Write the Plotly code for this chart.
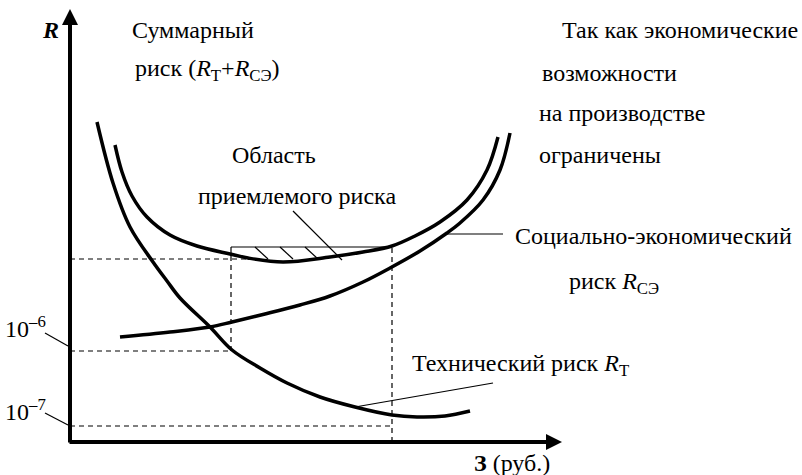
import plotly.graph_objects as go

### 데이터 (origin = axis crossing; units = screen px of the reference)
# суммарный риск R_Т + R_СЭ
total_x = [45, 52, 62, 77, 100, 127, 160, 178, 213, 260, 293, 322, 345, 370, 397, 417, 428]
total_y = [297, 270, 246, 225, 207, 196, 188, 184, 180, 185, 190, 196, 206, 220, 242, 272, 305]
# технический риск R_Т
tech_x = [27, 43, 60, 83, 97, 110, 140, 162, 190, 217, 250, 285, 322, 347, 375, 400]
tech_y = [320, 259, 215, 180, 161, 144, 115, 92, 74, 59, 45, 35, 27, 25, 26, 31]
# социально-экономический риск R_СЭ
soc_x = [50, 100, 140, 162, 195, 230, 260, 293, 320, 350, 377, 390, 413, 430, 440]
soc_y = [105, 110, 115, 120, 128, 137, 146, 160, 174, 191, 209, 219, 242, 272, 309]

# уровни риска и затрат (пунктир)
r_1e6 = 91
r_1e7 = 16
r_min = 183
r_top = 195
z_left = 161
z_right = 322
z_curve = 178
hatch_x = [185, 210, 235]

x_end = 492
y_end = 433

font = dict(family='"Liberation Serif", serif', size=24, color='black')

fig = go.Figure()
for xs, ys in [(total_x, total_y), (tech_x, tech_y), (soc_x, soc_y)]:
    fig.add_trace(go.Scatter(x=xs, y=ys, mode='lines',
                             line=dict(color='black', width=3.5, shape='spline', smoothing=1.0),
                             hoverinfo='skip', showlegend=False))

dash = dict(color='black', width=1.2, dash='5px,4px')
thin = dict(color='black', width=1.2)
shapes = [
    # пунктирные уровни
    dict(type='line', x0=0, x1=z_curve, y0=r_min, y1=r_min, line=dash),
    dict(type='line', x0=0, x1=z_left, y0=r_1e6, y1=r_1e6, line=dash),
    dict(type='line', x0=0, x1=z_right, y0=r_1e7, y1=r_1e7, line=dash),
    dict(type='line', x0=z_left, x1=z_left, y0=r_1e6, y1=r_min, line=dash),
    dict(type='line', x0=z_right, x1=z_right, y0=0, y1=r_top, line=dash),
    # область приемлемого риска
    dict(type='line', x0=z_left, x1=z_right, y0=r_top, y1=r_top, line=thin),
    dict(type='line', x0=z_left, x1=z_left, y0=r_min, y1=r_top, line=thin),
]
for hx in hatch_x:
    shapes.append(dict(type='line', x0=hx, x1=hx + 13, y0=r_top, y1=r_top - 12, line=thin))
# выноски
shapes += [
    dict(type='line', x0=223, x1=272, y0=231, y1=182, line=thin),
    dict(type='line', x0=375, x1=433, y0=208, y1=208, line=thin),
    dict(type='line', x0=285, x1=423, y0=35, y1=59, line=thin),
    dict(type='line', x0=-25, x1=-2, y0=109, y1=96, line=thin),
    dict(type='line', x0=-25, x1=-2, y0=29, y1=17, line=thin),
]

labels = [
    (-30, 412, '<b><i>R</i></b>'),
    (60, 412, 'Суммарный'),
    (63, 372, 'риск (<i>R</i><sub>Т</sub>+<i>R</i><sub>СЭ</sub>)'),
    (490, 412, 'Так как экономические'),
    (470, 369, 'возможности'),
    (467, 329, 'на производстве'),
    (467, 287, 'ограничены'),
    (160, 287, 'Область'),
    (126, 246, 'приемлемого риска'),
    (443, 206, 'Социально-экономический'),
    (497, 159, 'риск <i>R</i><sub>СЭ</sub>'),
    (-67, 115, '10<sup>–6</sup>'),
    (-67, 32, '10<sup>–7</sup>'),
    (340, 77, 'Технический риск <i>R</i><sub>Т</sub>'),
    (402, -21, '<b>З</b> (руб.)'),
]
annotations = [dict(x=x, y=y, text=t, showarrow=False, xanchor='left', yanchor='middle', font=font)
               for x, y, t in labels]
# оси со стрелками
annotations += [
    dict(x=0, y=y_end, ax=0, ay=-2, axref='x', ayref='y', text='', showarrow=True,
         arrowhead=2, arrowsize=0.8, arrowwidth=4, arrowcolor='black'),
    dict(x=x_end, y=0, ax=-2, ay=0, axref='x', ayref='y', text='', showarrow=True,
         arrowhead=2, arrowsize=0.8, arrowwidth=4, arrowcolor='black'),
]

fig.update_layout(width=802, height=475, margin=dict(l=0, r=0, t=0, b=0),
                  paper_bgcolor='white', plot_bgcolor='white',
                  xaxis=dict(range=[-70, 732], visible=False, fixedrange=True),
                  yaxis=dict(range=[-33, 442], visible=False, fixedrange=True),
                  shapes=shapes, annotations=annotations)
# убираем стандартный отступ body (8px) и панель инструментов
fig.write_html('out.html', config=dict(displayModeBar=False),
               post_script="document.body.style.margin='0px';")
